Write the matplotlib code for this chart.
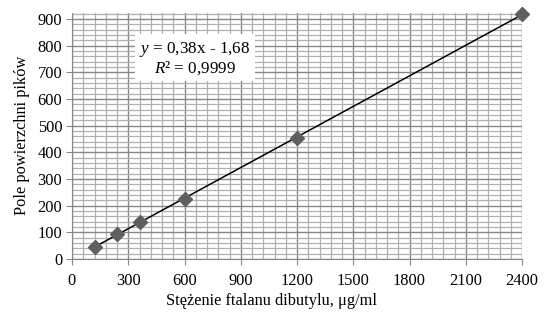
import numpy as np
import matplotlib.pyplot as plt
from matplotlib.ticker import MultipleLocator

plt.rcParams['font.family'] = ['Liberation Serif', 'DejaVu Serif']
plt.rcParams['mathtext.fontset'] = 'custom'
plt.rcParams['mathtext.rm'] = 'Liberation Serif'
plt.rcParams['mathtext.it'] = 'Liberation Serif:italic'

# data
stezenie = [120, 240, 360, 600, 1200, 2400]
pole = [46, 92, 137, 226, 455, 917]
x_ticks = [0, 300, 600, 900, 1200, 1500, 1800, 2100, 2400]
y_ticks = [0, 100, 200, 300, 400, 500, 600, 700, 800, 900]

fig = plt.figure(figsize=(5.51, 3.25), dpi=100)
ax = fig.add_axes([72 / 551, 1 - 259 / 325, 450 / 551, 246 / 325])

ax.set_xlim(0, 2400)
ax.set_ylim(0, 922)
ax.set_xticks(x_ticks)
ax.set_yticks(y_ticks)
ax.xaxis.set_minor_locator(MultipleLocator(60))
ax.yaxis.set_minor_locator(MultipleLocator(20))

ax.grid(which='major', color='#888888', linewidth=1.0)
ax.grid(which='minor', color='#b0b0b0', linewidth=0.9)
ax.set_axisbelow(True)

for s in ['top', 'right']:
    ax.spines[s].set_visible(False)
for s in ['left', 'bottom']:
    ax.spines[s].set_color('#888888')

ax.tick_params(which='major', length=4, color='#888888', labelsize=11.8,
               pad=3)
ax.tick_params(axis='x', pad=6)
ax.tick_params(which='minor', length=0)

# trend line
coef = np.polyfit(stezenie, pole, 1)
xs = np.array([stezenie[0], stezenie[-1]])
ax.plot(xs, np.polyval(coef, xs), color='black', linewidth=1.1, zorder=3)

ax.plot(stezenie, pole, linestyle='none', marker='D', markersize=7,
        color='#5f5f5f', zorder=4, clip_on=False)

ax.text(0.273, 0.815, '$y$ = 0,38x - 1,68\n$R$² = 0,9999',
        transform=ax.transAxes, ha='center', va='center', fontsize=12.3,
        linespacing=1.05, zorder=5,
        bbox=dict(facecolor='white', edgecolor='none', pad=3))

fig.text(272 / 551, 1 - 301 / 325, 'Stężenie ftalanu dibutylu, μg/ml',
         ha='center', va='center', fontsize=11.8)
fig.text(22 / 551, 1 - 135 / 325, 'Pole powierzchni pików', rotation=90,
         ha='center', va='center', fontsize=11.8)

fig.savefig('out.png', dpi=100)
